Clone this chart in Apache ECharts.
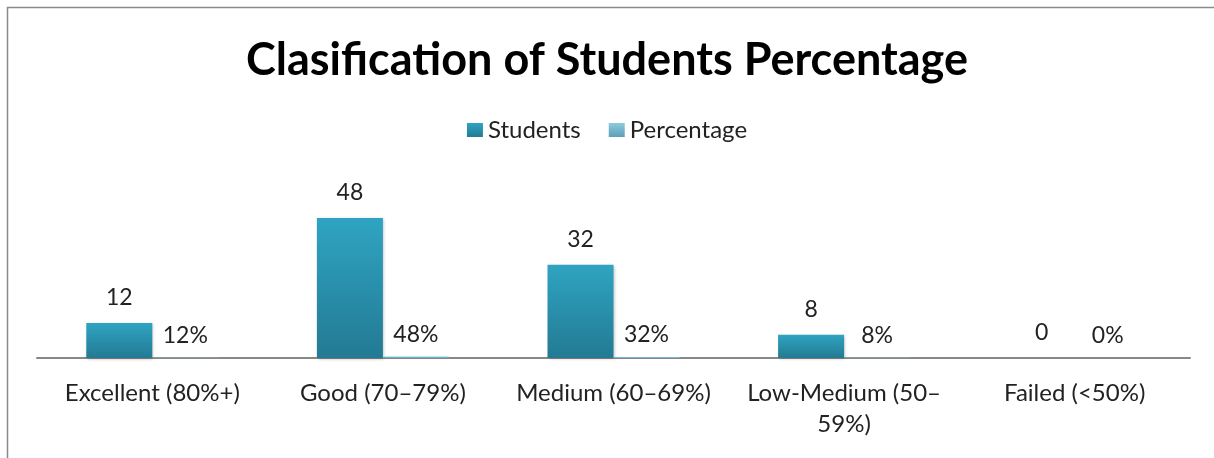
<!DOCTYPE html>
<html>
<head>
<meta charset="utf-8">
<script src="https://cdn.jsdelivr.net/npm/echarts@6/dist/echarts.min.js"></script>
<style>
html,body{margin:0;padding:0;background:#fff;}
#chart{width:1214px;height:458px;}
</style>
</head>
<body>
<div id="chart"></div>
<script>
var categories = ['Excellent (80%+)', 'Good (70–79%)', 'Medium (60–69%)', 'Low-Medium (50–59%)', 'Failed (<50%)'];
var students = [12, 48, 32, 8, 0];
var percentage = [0.12, 0.48, 0.32, 0.08, 0];
var titleText = 'Clasification of Students Percentage';

var chart = echarts.init(document.getElementById('chart'));
var font = 'Lato, "Open Sans", sans-serif';
function grad(a, b) {
  return new echarts.graphic.LinearGradient(0, 0, 0, 1, [{offset: 0, color: a}, {offset: 1, color: b}]);
}
chart.setOption({
  animation: false,
  backgroundColor: '#fff',
  graphic: [{
    type: 'rect',
    shape: {x: 7.5, y: 7.5, width: 1300, height: 600},
    style: {fill: 'none', stroke: '#8a8a8a', lineWidth: 1.5},
    silent: true, z: 100
  }],
  title: {
    text: titleText,
    left: 'center',
    top: 33,
    textStyle: {fontFamily: font, fontSize: 45, fontWeight: 'bold', color: '#000'}
  },
  legend: {
    top: 113,
    left: 'center',
    itemWidth: 16,
    itemHeight: 14,
    itemGap: 28,
    textStyle: {fontFamily: font, fontSize: 24, color: '#222'},
    data: [
      {name: 'Students', icon: 'rect', itemStyle: {color: grad('#2fa4c2', '#237a93')}},
      {name: 'Percentage', icon: 'rect', itemStyle: {color: grad('#8ccbe0', '#5d9fb6')}}
    ]
  },
  grid: {left: 37, right: 24, top: 183, bottom: 100, containLabel: false},
  xAxis: {
    type: 'category',
    data: categories,
    axisLine: {lineStyle: {color: '#888', width: 2}},
    axisTick: {show: false},
    axisLabel: {
      fontFamily: font, fontSize: 24, color: '#222', margin: 20, interval: 0, lineHeight: 31,
      formatter: function (v) { return v.length > 18 ? v.replace('–', '–\n') : v; }
    }
  },
  yAxis: {type: 'value', min: 0, max: 60, show: false, splitLine: {show: false}},
  series: [
    {
      name: 'Students', type: 'bar', data: students,
      barWidth: 66, barGap: '0%',
      itemStyle: {color: grad('#2fa4c2', '#237a93'), shadowColor: 'rgba(0,0,0,0.25)', shadowBlur: 3, shadowOffsetX: 1, shadowOffsetY: 1},
      label: {show: true, position: 'top', distance: 14, fontFamily: font, fontSize: 23, color: '#222'}
    },
    {
      name: 'Percentage', type: 'bar', data: percentage,
      barWidth: 66,
      itemStyle: {color: grad('#8ccbe0', '#5d9fb6')},
      label: {
        show: true, position: 'top', distance: 11, fontFamily: font, fontSize: 23, color: '#222',
        formatter: function (p) { return Math.round(p.value * 100) + '%'; }
      }
    }
  ]
});
</script>
</body>
</html>
